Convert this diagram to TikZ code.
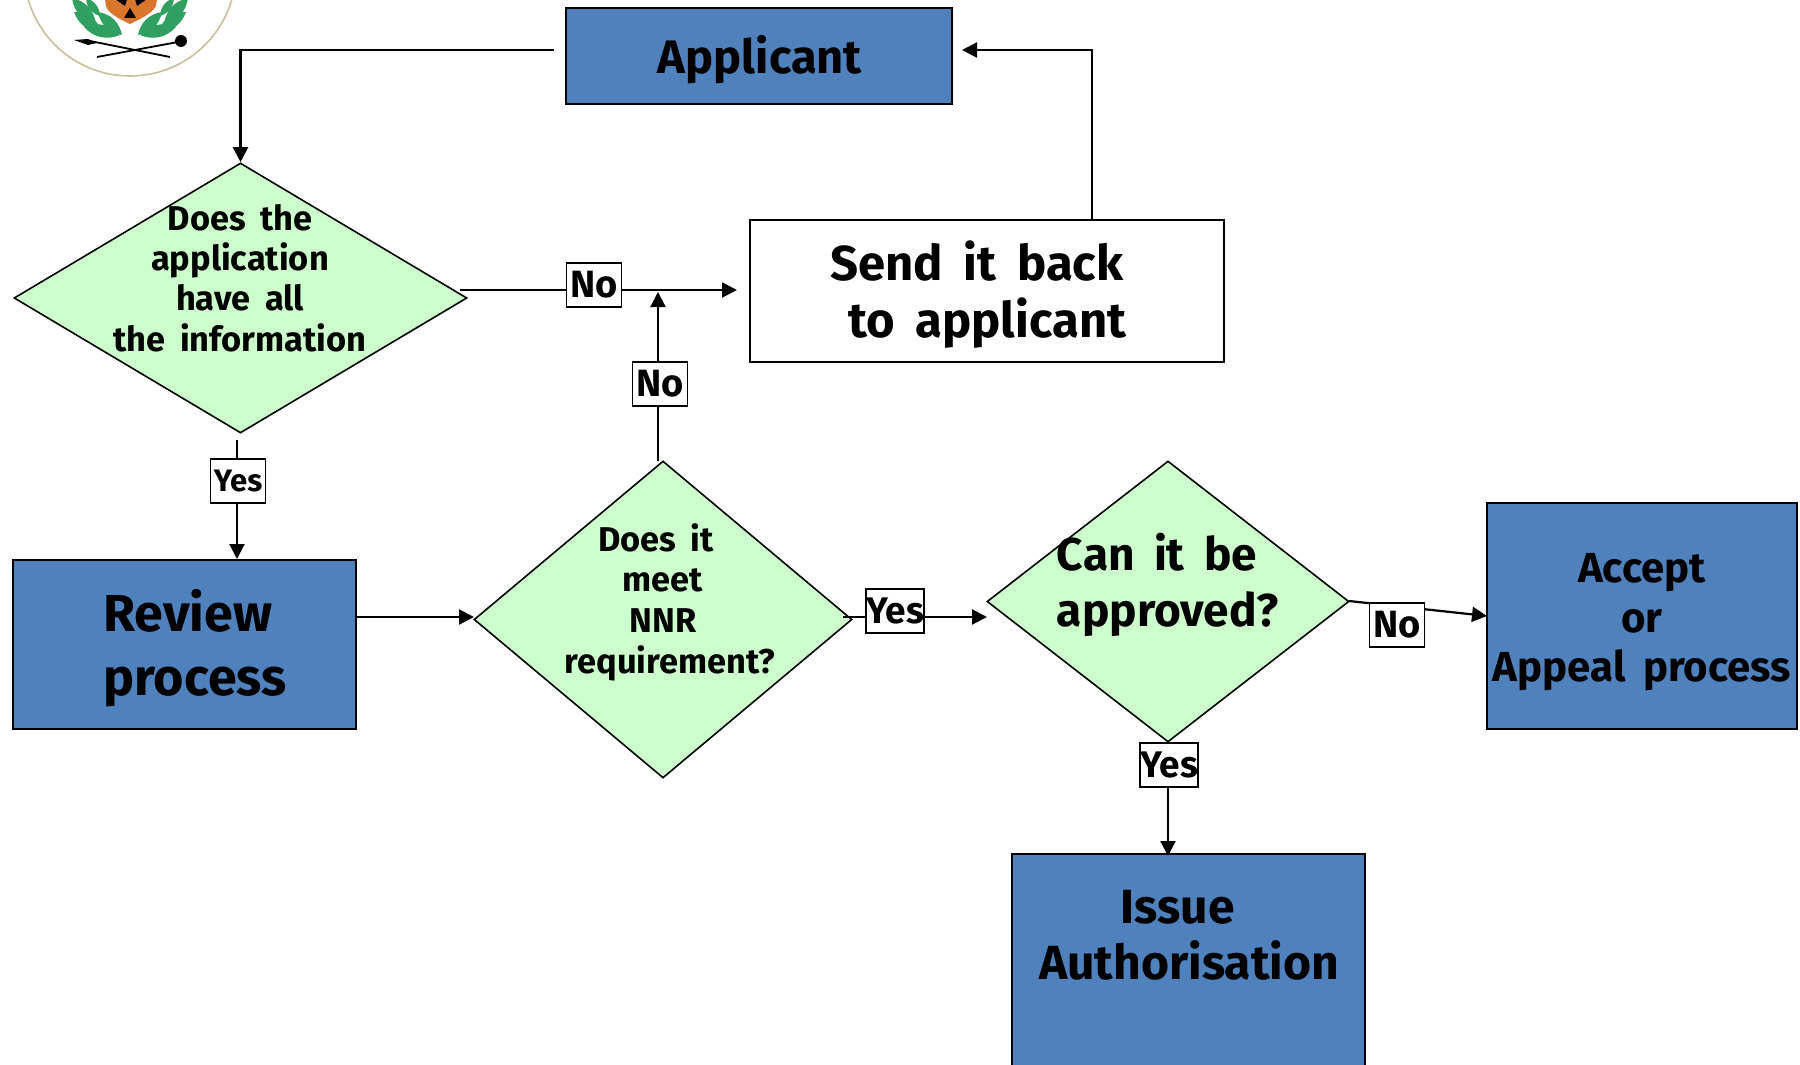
\documentclass[tikz,border=0pt]{standalone}
\usepackage{fontspec}
\setmainfont{Fira Sans}
\usetikzlibrary{shapes.geometric,arrows.meta}
\definecolor{boxblue}{HTML}{4F81BD}
\definecolor{dgreen}{HTML}{CCFFCC}
\definecolor{leafgreen}{HTML}{2FA060}
\definecolor{shieldor}{HTML}{D9762C}
\definecolor{ringc}{HTML}{CDBE9A}
\newcommand{\fs}[2]{\fontsize{#1}{#2}\selectfont\spaceskip=.42em\relax}
\tikzset{
  x=0.5pt,y=-0.5pt,
  bluebox/.style={draw=black,line width=1pt,fill=boxblue,rectangle,inner sep=0pt},
  whitebox/.style={draw=black,line width=1pt,fill=white,rectangle,inner sep=0pt},
  dec/.style={draw=black,line width=0.8pt,fill=dgreen,diamond,inner sep=0pt},
  tag/.style={draw=black,line width=0.9pt,fill=white,rectangle,inner sep=0pt,minimum width=27.5pt,minimum height=22pt,font=\fontsize{19}{19}\selectfont\bfseries},
  conn/.style={draw=black,line width=1.1pt},
  arr/.style={conn,-{Triangle[length=7.5pt,width=7.5pt]}},
  txt/.style={align=center,inner sep=0pt},
  leaf/.style={fill=leafgreen,draw=none},
}
\begin{document}
\begin{tikzpicture}
\useasboundingbox (0,0) rectangle (1800,1065);
\fill[white] (0,0) rectangle (1800,1065);
% logo
\begin{scope}
\clip (0,0) rectangle (300,100);
\draw[ringc,line width=0.8pt,fill=white] (130,-30) circle[radius=106];
\foreach \a/\b/\c/\d in {72/-2/96/24, 86/-2/100/16, 98/12/122/35, 84/27/120/35, 74/12/102/32}{
  \fill[leaf] (\a,\b) to[bend left=35] (\c,\d) to[bend left=35] (\a,\b);
  \fill[leaf] (260-\a,\b) to[bend left=35] (260-\c,\d) to[bend left=35] (260-\a,\b);
}
\fill[shieldor] (105,-1) -- (157,-1) -- (156,6) .. controls (152,14) and (138,20) .. (130,24) .. controls (122,20) and (108,14) .. (106,6) -- cycle;
\fill[black] (124,18) -- (130,8) -- (136,18) -- cycle;
\fill[black] (115,-1) -- (127,-1) -- (125,6) -- cycle;
\fill[black] (135,-1) -- (147,-1) -- (137,6) -- cycle;
\draw[black,line width=0.9pt] (90,41) -- (170,57);
\fill[black] (74,40) -- (88,39) -- (97,43) -- (88,45) -- cycle;
\draw[black,line width=0.9pt] (97,57) -- (178,42);
\fill[black] (181,41) circle[radius=6];
\end{scope}
% shapes
\node[bluebox,minimum width=193pt,minimum height=48pt] (app) at (759,56) {};
\node[whitebox,minimum width=237pt,minimum height=71pt] (send) at (987,291) {};
\node[dec,shape aspect=1.68,minimum width=226.5pt,minimum height=135pt] (d1) at (240.5,298) {};
\node[bluebox,minimum width=171.5pt,minimum height=84.5pt] (rev) at (184.5,644.5) {};
\node[dec,shape aspect=1.19,minimum width=189pt,minimum height=158.5pt] (d2) at (663,619.5) {};
\node[dec,shape aspect=1.288,minimum width=181pt,minimum height=140.5pt] (d3) at (1168,601.5) {};
\node[bluebox,minimum width=155pt,minimum height=113pt] (acc) at (1642,616) {};
\node[bluebox,minimum width=176.5pt,minimum height=108pt] (iss) at (1188.5,962) {};
% connector ends
\coordinate (a1s) at (554,50);
\coordinate (a2s) at (1092,220);
\coordinate (a2e) at (962,50);
\coordinate (a3s) at (460,290);
\coordinate (a3e) at (737,290);
\coordinate (a4s) at (658,461);
\coordinate (a4e) at (658,292);
\coordinate (a5s) at (237,440);
\coordinate (a5e) at (237,559);
\coordinate (a6s) at (356,617);
\coordinate (a6e) at (474,617);
\coordinate (a7s) at (843,617);
\coordinate (a7e) at (987,617);
\coordinate (a8s) at (1349,601);
\coordinate (a8e) at (1487,616);
\coordinate (a9e) at (1168,856);
% connectors
\draw[arr] (a1s) -| (d1.north);
\draw[arr] (a2s) |- (a2e);
\draw[arr] (a3s) -- (a3e);
\draw[arr] (a4s) -- (a4e);
\draw[arr] (a5s) -- (a5e);
\draw[arr] (a6s) -- (a6e);
\draw[arr] (a7s) -- (a7e);
\draw[arr] (a8s) -- (a8e);
\draw[arr] (d3.south) -- (a9e);
% tags
\node[tag] (n1) at (594,285) {No};
\node[tag] (n2) at (660,384) {No};
\node[tag,font=\fontsize{15.5}{15.5}\selectfont\bfseries] (y1) at (238,481) {Yes};
\node[tag,font=\fontsize{18.5}{18.5}\selectfont\bfseries] (y2) at (895,611) {Yes};
\node[tag] (n3) at (1397,625) {No};
\node[tag,font=\fontsize{18.5}{18.5}\selectfont\bfseries] (y3) at (1169,765) {Yes};
% texts
\node[txt,font=\fs{23.5}{30}\bfseries] (tapp) at (760,59.5) {Applicant};
\node[txt,font=\fs{24.5}{28.7}\bfseries] (tsend) at (977,294.5) {Send it back\\\hspace*{10.3pt}to applicant};
\node[txt,font=\fs{17.2}{20.2}\bfseries] (td1) at (240,278) {Does the\\application\\have all\\the information};
\node[txt,font=\fs{26}{32}\bfseries,align=left] (trev) at (195,648) {Review\\process};
\node[txt,font=\fs{17.2}{20.3}\bfseries] (td2) at (663,602) {\hspace*{-7pt}Does it\\meet\\NNR\\\hspace*{7pt}requirement?};
\node[txt,font=\fs{23}{28}\bfseries,align=left] (td3) at (1168,585) {Can it be\\approved?};
\node[txt,font=\fs{21}{24.7}\bfseries] (tacc) at (1642,622.5) {Accept\\or\\Appeal process};
\node[txt,font=\fs{24}{28}\bfseries] (tiss) at (1189,935) {Issue\hspace*{11.5pt}\\Authorisation};
\end{tikzpicture}
\end{document}
